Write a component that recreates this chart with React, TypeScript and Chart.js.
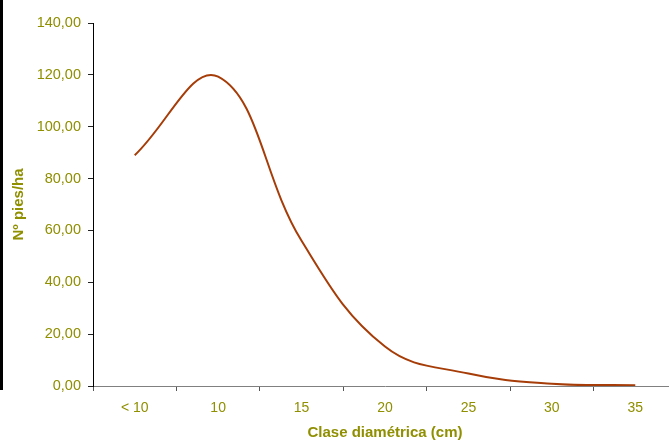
import React, { useEffect, useRef } from "react";
import { Chart, registerables } from "chart.js";

Chart.register(...registerables);

const categories = ["< 10", "10", "15", "20", "25", "30", "35"];
const piesHa = [89, 119.3, 56, 15.2, 4.8, 0.9, 0.3];
const yTicks = [0, 20, 40, 60, 80, 100, 120, 140];

const OLIVE = "#8f8f00";
const LINE = "#a63d08";
const FONT = "'Liberation Sans', Arial, sans-serif";

export default function App() {
  const ref = useRef<HTMLCanvasElement | null>(null);

  useEffect(() => {
    if (!ref.current) return;
    const chart = new Chart(ref.current, {
      type: "line",
      data: {
        labels: categories,
        datasets: [
          {
            data: piesHa,
            borderColor: LINE,
            borderWidth: 2,
            pointRadius: 0,
            tension: 0.4,
            fill: false,
          },
        ],
      },
      options: {
        animation: false,
        responsive: false,
        maintainAspectRatio: false,
        layout: { padding: { top: 23, right: 43, left: 0, bottom: 0 } },
        plugins: { legend: { display: false }, tooltip: { enabled: false } },
        scales: {
          x: {
            type: "category",
            offset: true,
            grid: {
              offset: true,
              drawOnChartArea: false,
              drawTicks: true,
              tickLength: 5,
              color: "#555",
            },
            border: { display: true, color: "#808080", width: 1 },
            ticks: {
              color: OLIVE,
              font: { family: FONT, size: 14 },
              padding: 9,
              autoSkip: false,
              maxRotation: 0,
            },
            title: {
              display: true,
              text: "Clase diamétrica (cm)",
              color: OLIVE,
              font: { family: FONT, size: 15, weight: "bold" },
              padding: { top: 0, bottom: -2 },
            },
            afterFit: (s: any) => {
              s.height = 54;
            },
          },
          y: {
            min: 0,
            max: 140,
            afterBuildTicks: (s: any) => {
              s.ticks = yTicks.map((v) => ({ value: v }));
            },
            grid: {
              drawOnChartArea: false,
              drawTicks: true,
              tickLength: 5,
              color: "#222",
            },
            border: { display: true, color: "#000", width: 1 },
            ticks: {
              color: OLIVE,
              font: { family: FONT, size: 14.5 },
              padding: 7,
              callback: (v: any) => Number(v).toFixed(2).replace(".", ","),
            },
            title: {
              display: true,
              text: "Nº pies/ha",
              color: OLIVE,
              font: { family: FONT, size: 15, weight: "bold" },
              padding: { top: 10, bottom: 0 },
            },
            afterFit: (s: any) => {
              s.width = 93;
            },
          },
        },
      },
    });
    return () => chart.destroy();
  }, []);

  return (
    <div
      style={{
        position: "fixed",
        left: 0,
        top: 0,
        width: 669,
        height: 440,
        overflow: "hidden",
        background: "#fff",
      }}
    >
      <canvas ref={ref} width={720} height={440} style={{ width: 720, height: 440, display: "block" }} />
      <div
        style={{
          position: "absolute",
          left: 0,
          top: 0,
          width: 3,
          height: 390,
          background: "#000",
        }}
      />
    </div>
  );
}
